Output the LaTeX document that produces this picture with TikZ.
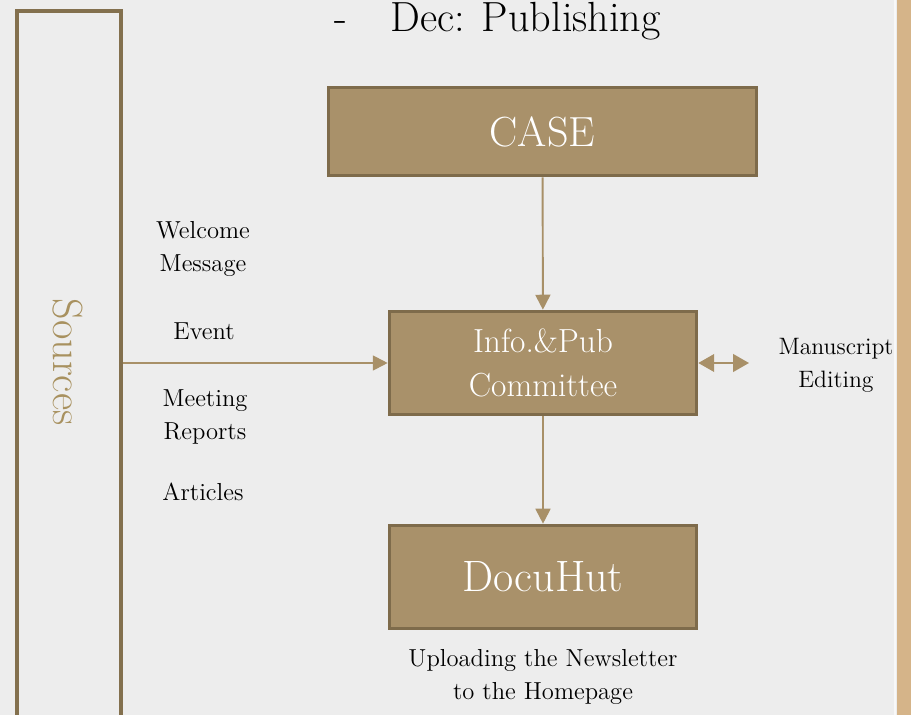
\documentclass[tikz,border=0pt]{standalone}
\usepackage{tikz}
\usetikzlibrary{arrows.meta}
\definecolor{paper}{HTML}{EDEDED}
\definecolor{rim}{HTML}{D5B489}
\definecolor{boxfill}{HTML}{A9916A}
\definecolor{boxline}{HTML}{7E6B4B}
\definecolor{linktan}{HTML}{A89068}
\definecolor{srcline}{HTML}{83704E}
\definecolor{srctext}{HTML}{A8915F}
\newcommand*{\fsz}[2]{\fontsize{#1}{#2}\selectfont}

\begin{document}
\begin{tikzpicture}[x=0.02cm, y=-0.02cm,
  unitbox/.style={draw=boxline, fill=boxfill, line width=1.8pt, text=white, align=center, inner sep=0pt},
  note/.style={align=center, font=\fsz{14}{18.7}, inner sep=0pt},
  link/.style={draw=linktan, line width=1.1pt, -{Triangle[length=8.5pt, width=8.5pt]}}]

\def\smallw{6.15cm}
\def\smallh{2.07cm}

\useasboundingbox (0,0) rectangle (911,715);
\clip (0,0) rectangle (911,715);
\fill[paper] (0,0) rectangle (911,715);
\fill[rim] (897,0) rectangle (911,715);
\draw[paper!40!white, line width=1.2pt] (895,0) -- (895,715);

% title
\node[anchor=base, font=\fsz{24}{28}, inner sep=0pt] (dash) at (341,32) {-};
\node[anchor=base west, font=\fsz{24}{28}, inner sep=0pt] (title) at (390,32) {Dec: Publishing};

% sources column
\node[draw=srcline, line width=2pt, minimum width=2.08cm, minimum height=15cm, anchor=north, inner sep=0pt] (sources) at (69,9) {};
\node[rotate=-90, text=srctext, font=\fsz{24}{28}, inner sep=0pt] (srclabel) at (68,362) {Sources};

% boxes
\node[unitbox, minimum width=8.56cm, minimum height=1.77cm, font=\fsz{24}{28}] (case) at (542.5,131.5) {CASE};
\node[unitbox, minimum width=\smallw, minimum height=\smallh, font=\fsz{19}{25.5}] (info) at (543,363) {Info.\&Pub\\Committee};
\node[unitbox, minimum width=\smallw, minimum height=\smallh, font=\fsz{25}{30}] (docu) at (543,577) {DocuHut};

% texts
\node[note] (welcome) at (203,249) {Welcome\\Message};
\node[note] (event) at (204,331) {Event};
\node[note] (meeting) at (205,417) {Meeting\\Reports};
\node[note] (articles) at (203,492) {Articles};
\node[note, font=\fsz{13.5}{18.7}] (manuscript) at (836,365) {Manuscript\\Editing};
\node[note] (upload) at (543,677) {Uploading the Newsletter\\to the Homepage};

\coordinate (edit) at (749,363);

\draw[link] (case) -- (info);
\draw[link] (info) -- (docu);
\draw[link] (sources.east |- info.west) -- (info.west);
\draw[link, {Triangle[length=9pt, width=10pt]}-{Triangle[length=9pt, width=10pt]}] (info.east) -- (edit);

\end{tikzpicture}
\end{document}
